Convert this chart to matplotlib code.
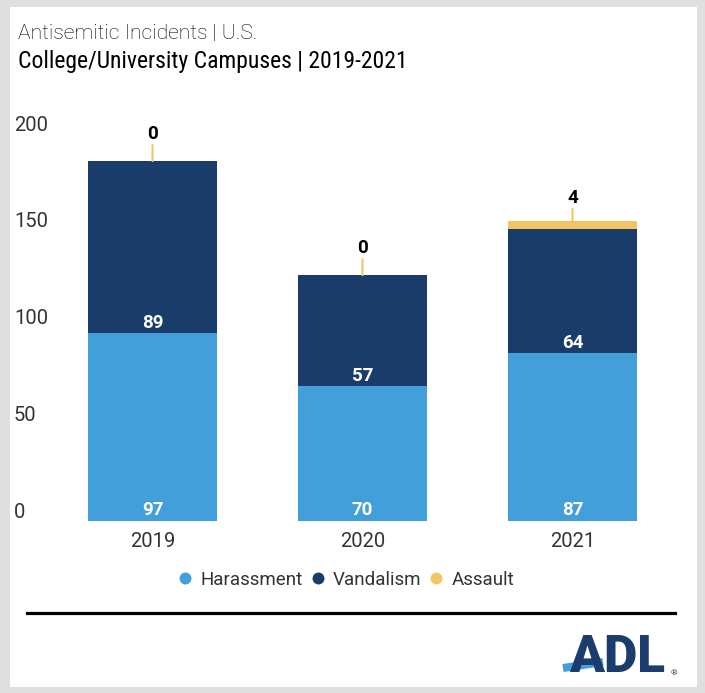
import matplotlib.pyplot as plt
import matplotlib.transforms as mtransforms
from matplotlib import font_manager
from matplotlib.lines import Line2D
from matplotlib.patches import Rectangle

# Data
years = ['2019', '2020', '2021']
harassment = [97, 70, 87]
vandalism = [89, 57, 64]
assault = [0, 0, 4]
y_ticks = [0, 50, 100, 150, 200]

c_har = '#429fd9'
c_van = '#193c6b'
c_ass = '#f2c466'
c_txt = '#333333'

plt.rcParams['font.family'] = ['Roboto', 'DejaVu Sans']

# subtitle in the reference is a condensed face
try:
    font_manager.findfont('Roboto Condensed', fallback_to_default=False)
    sub_font, sub_size = 'Roboto Condensed', 17
except ValueError:
    sub_font, sub_size = 'Roboto', 14.8

W, H = 705, 693
fig = plt.figure(figsize=(W / 100, H / 100), dpi=100)
fig.patch.set_facecolor('#dfdfdf')
fig.patches.append(Rectangle((10 / W, 1 - 687 / H), 687 / W, 680 / H,
                             transform=fig.transFigure, facecolor='white',
                             edgecolor='none', zorder=-1))

# axes: x centers every 210 px, y zero at pixel 521, 200 at pixel 134
ax = fig.add_axes([47.5 / W, 1 - 521 / H, 630 / W, 387 / H])
ax.set_facecolor('none')
ax.set_xlim(-0.5, 2.5)
ax.set_ylim(0, 200)

x = list(range(len(years)))
width = 0.614
bottom2 = harassment
bottom3 = [h + v for h, v in zip(harassment, vandalism)]
ax.bar(x, harassment, width, color=c_har, linewidth=0)
ax.bar(x, vandalism, width, bottom=bottom2, color=c_van, linewidth=0)
ax.bar(x, assault, width, bottom=bottom3, color=c_ass, linewidth=0)

lab_kw = dict(textcoords='offset points', ha='center', va='baseline',
              fontsize=13.5, fontweight='bold')
for i in x:
    ax.annotate(str(harassment[i]), (i, 0), xytext=(0, 4.3), color='white', **lab_kw)
    ax.annotate(str(vandalism[i]), (i, bottom2[i]), xytext=(0, 3.6), color='white', **lab_kw)
    mid = bottom3[i] + assault[i] / 2
    ax.annotate('', (i, mid), xytext=(0, 11.5), textcoords='offset points',
                arrowprops=dict(arrowstyle='-', color=c_ass, lw=1.5,
                                shrinkA=0, shrinkB=0), annotation_clip=False)
    ax.annotate(str(assault[i]), (i, mid), xytext=(0, 16), color='black',
                annotation_clip=False, **lab_kw)

for s in ax.spines.values():
    s.set_visible(False)
ax.set_yticks([])
ax.set_xticks(x)
ax.set_xticklabels(years, fontsize=14.5, color=c_txt)
ax.tick_params(axis='x', length=0, pad=8)

blend = mtransforms.blended_transform_factory(fig.transFigure, ax.transData)
for t in y_ticks:
    ax.annotate(str(t), (14 / W, t), xycoords=blend, xytext=(0, 2.5),
                textcoords='offset points', ha='left', va='baseline',
                fontsize=14.5, color=c_txt, annotation_clip=False)

# titles
fig.text(18 / W, 1 - 39 / H, 'Antisemitic Incidents | U.S.', fontsize=15.2,
         fontweight='light', color='black', va='baseline')
fig.text(18 / W, 1 - 68 / H, 'College/University Campuses | 2019-2021',
         fontsize=sub_size, family=[sub_font, 'DejaVu Sans'],
         color='black', va='baseline')

# legend
handles = [Line2D([], [], marker='o', linestyle='none', markersize=8.6,
                  markerfacecolor=c, markeredgecolor='none')
           for c in (c_har, c_van, c_ass)]
fig.legend(handles, ['Harassment', 'Vandalism', 'Assault'], loc='center',
           bbox_to_anchor=(346 / W, 1 - 580 / H), ncol=3, frameon=False,
           fontsize=13.5, handlelength=0.8, handletextpad=0.42, columnspacing=0.4,
           labelcolor=c_txt, borderpad=0, borderaxespad=0)

# divider
fig.lines.append(Line2D([27 / W, 675 / W], [1 - 613 / H, 1 - 613 / H],
                        transform=fig.transFigure, color='black', lw=2.3))

# ADL logo
fig.text(569 / W, 1 - 672 / H, 'ADL', fontsize=37, fontweight='black',
         color='#1b3d6e', va='baseline', ha='left')
fig.lines.append(Line2D([563 / W, 603 / W], [1 - 668 / H, 1 - 662 / H],
                        transform=fig.transFigure, color='#41a0db', lw=5.8,
                        solid_capstyle='butt'))
fig.text(671 / W, 1 - 675 / H, '®', fontsize=6, color='#1b3d6e', va='baseline')

fig.savefig('out.png', dpi=100)
